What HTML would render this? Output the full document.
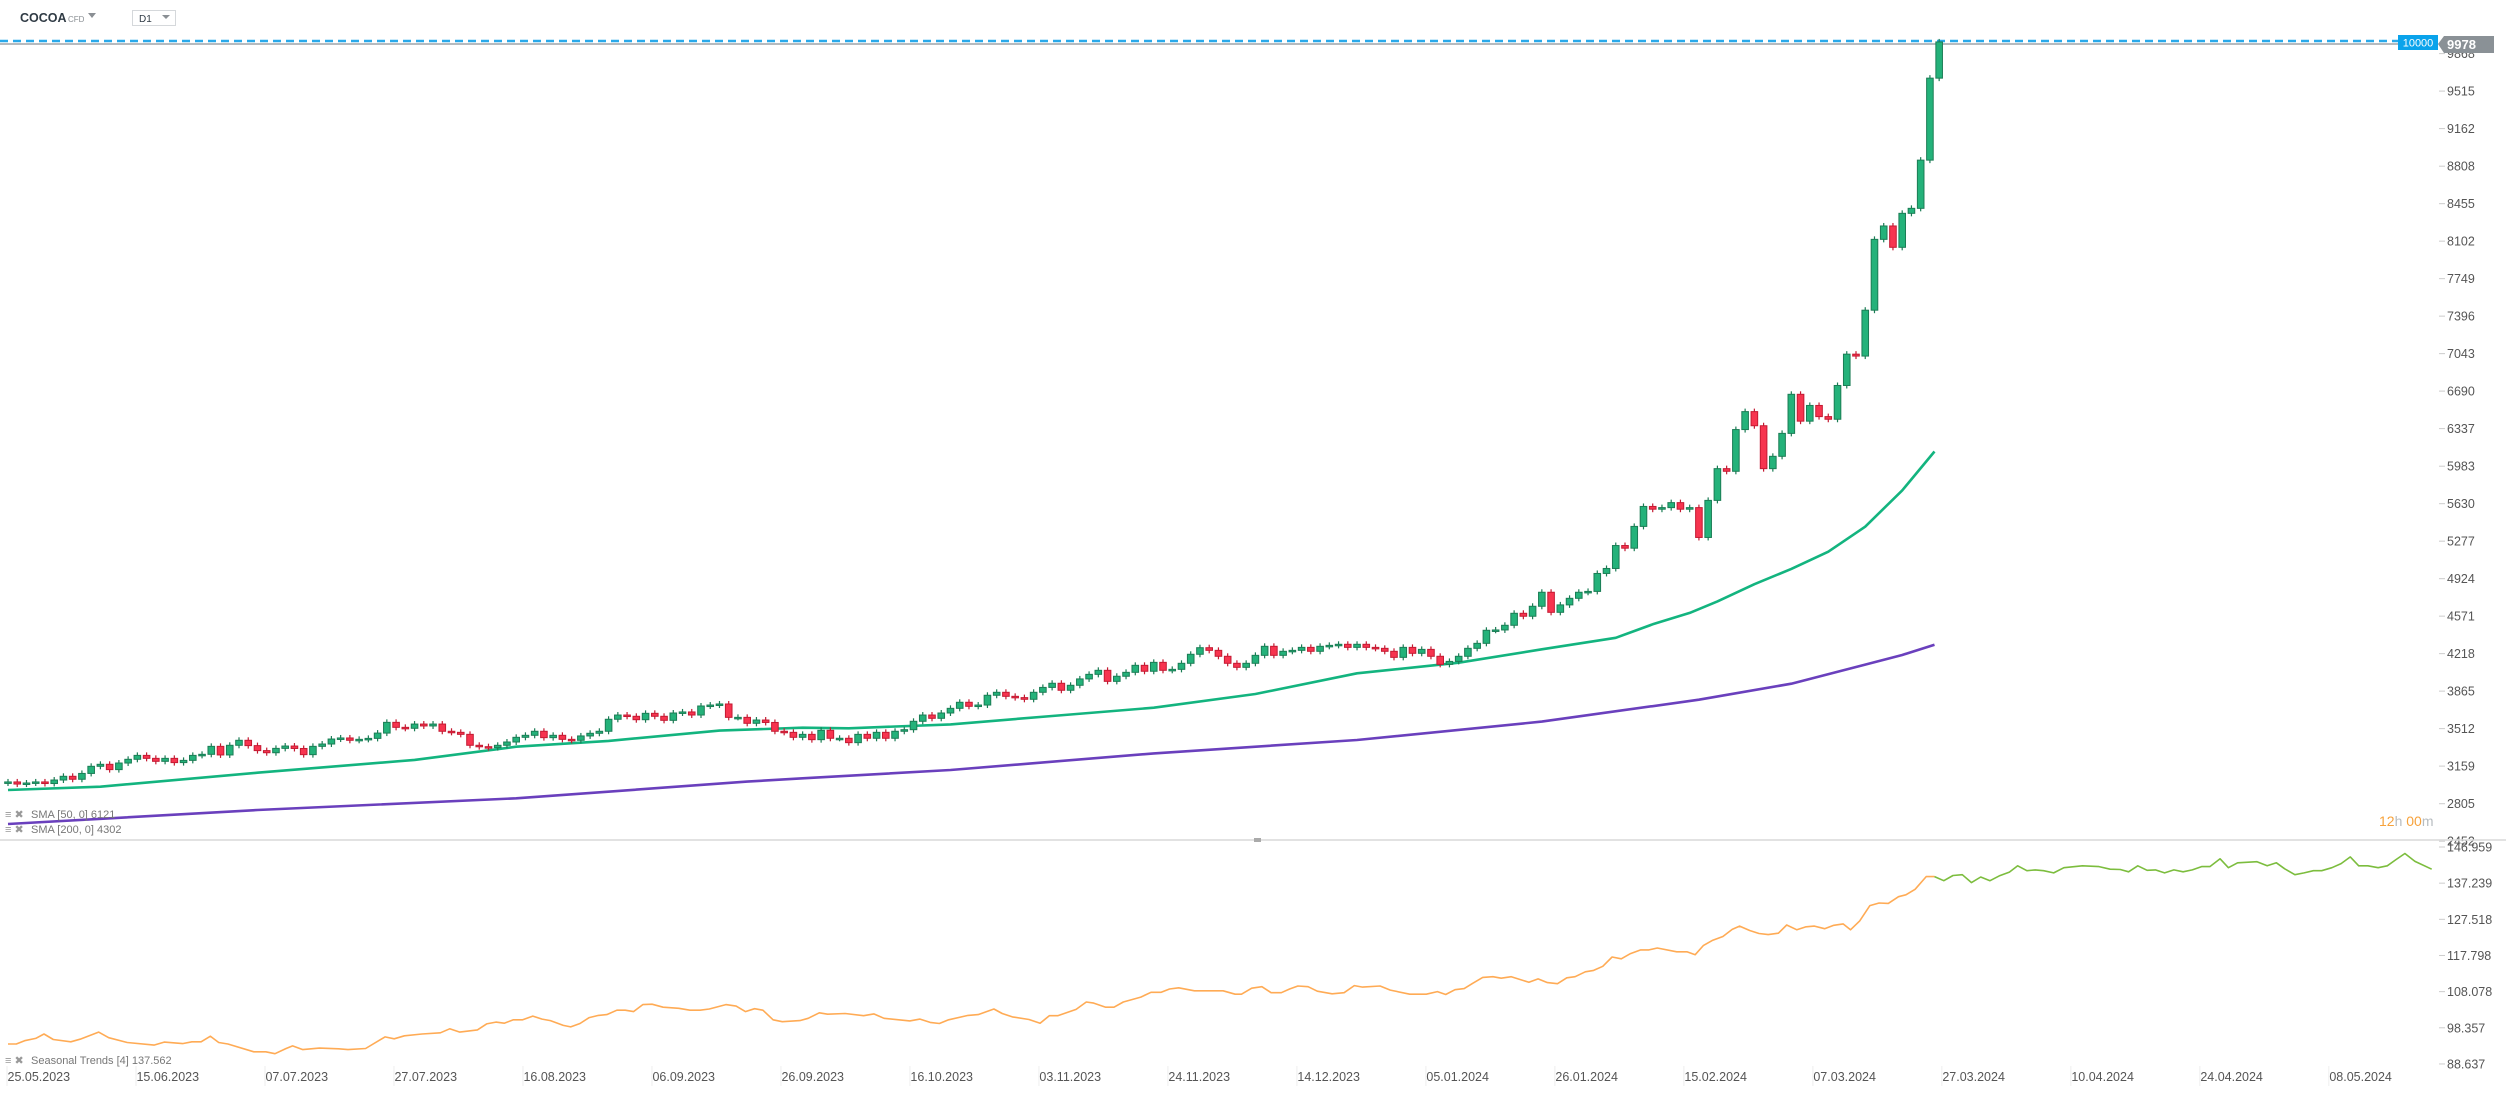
<!DOCTYPE html>
<html><head><meta charset="utf-8"><style>
html,body{margin:0;padding:0;background:#fff;}
svg{display:block;font-family:"Liberation Sans",sans-serif;}
</style></head><body>
<svg id="chart" width="2506" height="1093" viewBox="0 0 2506 1093" xmlns="http://www.w3.org/2000/svg">
<rect width="2506" height="1093" fill="#fff"/>
<g>
<text x="20" y="22" font-size="12.5" font-weight="bold" fill="#2f3a44">COCOA</text>
<text x="68" y="22" font-size="8" fill="#8a8f94">CFD</text>
<path d="M88 13 L96 13 L92 18 Z" fill="#8a8f94"/>
<rect x="132.5" y="10.5" width="43" height="15" fill="#fff" stroke="#d5d8db"/>
<text x="139" y="22" font-size="10" fill="#2f3a44">D1</text>
<path d="M162 15 L170 15 L166 19 Z" fill="#8a8f94"/>
</g>
<g id="grid"></g>
<line x1="0" y1="44" x2="2438" y2="44" stroke="#8a9196" stroke-width="1.2"/>
<line x1="0" y1="41" x2="2398" y2="41" stroke="#29a9ea" stroke-width="2.5" stroke-dasharray="8 5"/>
<g id="sma200"></g><g id="sma50"></g><g id="candles"></g>
<g id="price-axis"></g>
<rect x="2398" y="35" width="40" height="15" fill="#0aa3eb"/>
<text x="2418" y="46.5" font-size="11" fill="#fff" text-anchor="middle">10000</text>
<path d="M2438 44 L2444 36 L2494 36 L2494 53 L2444 53 Z" fill="#8a9196"/>
<text x="2447" y="49" font-size="13" font-weight="bold" fill="#fff">9978</text>
<g font-size="14">
<text x="2379" y="826"><tspan fill="#f7a23b">12</tspan><tspan fill="#b7bcc0">h </tspan><tspan fill="#f7a23b">00</tspan><tspan fill="#b7bcc0">m</tspan></text>
</g>
<g font-size="11" fill="#777">
<text x="5" y="818" fill="#999">≡ ✖</text>
<text x="31" y="818">SMA [50, 0] 6121</text>
<text x="5" y="833" fill="#999">≡ ✖</text>
<text x="31" y="833">SMA [200, 0] 4302</text>
</g>
<line x1="0" y1="840" x2="2506" y2="840" stroke="#d9d9d9" stroke-width="1.5"/>
<rect x="1254" y="838" width="7" height="4" fill="#aaa"/>
<g id="seasonal"></g>
<g id="seas-axis"></g>
<g font-size="11" fill="#777">
<text x="5" y="1064" fill="#999">≡ ✖</text>
<text x="31" y="1064">Seasonal  Trends  [4] 137.562</text>
</g>
<g id="date-axis"></g>
</svg>
<script>
const closes = [3010,2990,3000,3010,2995,3028,3063,3035,3090,3157,
3176,3126,3188,3223,3260,3232,3204,3232,3192,3213,
3260,3270,3345,3264,3355,3402,3352,3305,3285,3326,
3348,3325,3267,3345,3367,3414,3424,3402,3411,3420,
3470,3571,3524,3515,3555,3537,3555,3487,3477,3458,
3355,3342,3333,3355,3386,3430,3449,3487,3427,3449,
3411,3402,3443,3468,3487,3600,3640,3628,3596,3656,
3628,3590,3659,3669,3640,3725,3734,3744,3618,3618,
3562,3593,3570,3487,3477,3430,3458,
3408,3496,3421,3421,3380,3458,3421,3477,3421,3487,
3502,3581,3640,3609,3659,3703,3760,3722,3734,3826,
3854,3816,3804,3788,3854,3900,3939,3873,3920,3980,
4023,4061,3957,4005,4042,4108,4052,4136,4061,4070,
4127,4212,4274,4249,4193,4127,4089,4127,4202,4287,
4202,4240,4249,4277,4240,4287,4296,4306,4277,4306,
4277,4268,4240,4183,4277,4221,4258,4193,4117,4145,
4193,4268,4315,4438,4441,4485,4598,4570,4664,4796,4607,
4677,4739,4796,4804,4973,5020,5236,5211,5416,5604,
5578,5593,5640,5578,5593,5312,5661,5960,5935,6328,
6497,6364,5960,6076,6292,6660,6407,6555,6450,6425,
6743,7038,7020,7452,8119,8245,8044,8364,8411,8865,9637,9978];
const firstOpen = 3000;
const sma50Idx = [0,10,27,44,55,65,77,86,91,102,113,124,135,146,157,166,174,178,182,185,189,193,197,201,205,208.5];
const sma50Val = [2934,2965,3097,3217,3342,3396,3493,3521,3515,3552,3631,3709,3838,4033,4133,4259,4367,4494,4602,4710,4872,5016,5178,5413,5755,6121];
const sma200Idx = [0,27,55,80,86,102,124,146,166,183,193,201,205,208.5];
const sma200Val = [2614,2746,2856,3013,3044,3122,3279,3405,3578,3784,3935,4115,4205,4302];
const priceTicks = [9868,9515,9162,8808,8455,8102,7749,7396,7043,6690,6337,5983,5630,5277,4924,4571,4218,3865,3512,3159,2805,2452];
const seasTicks = ["146.959","137.239","127.518","117.798","108.078","98.357","88.637"];
const dateLabels = ["25.05.2023","15.06.2023","07.07.2023","27.07.2023","16.08.2023","06.09.2023","26.09.2023","16.10.2023","03.11.2023","24.11.2023","14.12.2023","05.01.2024","26.01.2024","15.02.2024","07.03.2024","27.03.2024","10.04.2024","24.04.2024","08.05.2024"];
const seasIdx = [0,0.9,1.8,3,3.9,4.9,6.8,7.8,9.8,10.9,12.9,15.8,16.9,18.9,19.9,20.9,21.9,22.8,23.8,26.6,27.9,28.9,30.1,30.8,31.9,33.7,35.8,36.8,38.7,40.8,41.8,42.9,44.8,46.8,47.8,48.9,50.8,51.8,52.8,53.7,54.7,55.7,56.8,57.8,58.7,60.1,60.9,61.9,62.9,63.9,64.8,65.9,66.8,67.7,68.7,69.7,70.9,72.6,73.8,74.9,
75.9,77.7,78.8,79.8,80.8,81.7,82.8,83.8,85.7,86.6,87.8,88.7,90.6,92.6,93.7,94.8,97.6,98.7,99.8,100.8,101.8,103.9,105,106.7,107.6,108.7,110.5,111.7,112.7,113.6,115.6,116.7,117.5,118.8,119.7,120.7,122.6,123.7,124.8,125.7,126.7,128.4,131.5,132.8,133.5,134.6,135.7,136.7,137.8,138.7,139.6,140.7,141.7,143.3,144.6,145.7,146.6,148.5,149.6,151.7,153.5,154.7,
155.6,156.6,157.6,158.5,159.6,160.7,161.6,162.7,164.6,165.6,166.6,167.7,168.7,169.6,170.7,171.6,172.6,173.6,174.6,175.6,176.7,177.6,178.5,180.6,181.7,182.6,183.5,184.5,185.6,186.6,187.4,188.5,189.5,190.5,191.6,192.5,193.6,194.6,195.5,196.6,197.6,198.6,199.4,200.4,201.5,202.5,203.5,204.6,205.4,206.4,207.6,208.5,
209.5,210.5,211.5,212.5,213.5,214.5,215.5,216.6,217.5,218.5,219.4,220.3,221.4,222.5,224.5,226.3,227.5,228.6,229.5,230.5,231.5,232.4,233.4,234.4,235.4,236.4,237.4,238.3,239.4,240.3,241.3,243.4,244.5,245.5,246.4,247.5,248.5,249.5,250.4,251.5,252.5,253.5,254.4,255.4,256.5,257.5,258.4,259.4,260.5,262.3];
const seasVal = [94,94,94.9,95.5,96.7,95.2,94.6,95.3,97.2,95.7,94.4,93.7,94.5,94.1,94.6,94.6,96.1,94.4,94,91.9,91.9,91.4,92.8,93.5,92.5,92.9,92.7,92.5,92.8,95.9,95.4,96.2,96.7,97,98.1,97.2,97.8,99.4,99.9,99.6,100.5,100.5,101.5,100.7,100.3,99,98.6,99.5,101.1,101.7,101.9,103.1,103.1,102.7,104.6,104.7,103.9,103.6,103.1,103.1,
103.4,104.6,104.2,102.7,103.5,103.1,100.5,100,100.3,100.9,102.4,102,102.2,101.6,102.1,100.9,100.2,100.7,99.8,99.5,100.5,101.7,101.9,103.4,102.2,101.3,100.6,99.6,101.6,101.6,103.3,105.3,105,103.9,103.9,105.3,106.6,107.9,107.9,108.8,109.1,108.3,108.3,107.4,107.4,109,109.4,107.8,107.8,108.8,109.6,109.4,108.2,107.5,107.8,109.7,109.3,109.6,108.5,107.4,107.4,108.1,
107.3,108.6,108.9,110.3,111.9,112.1,111.7,112.1,110.6,111.5,110.5,110.2,111.8,112.1,113.4,113.8,114.9,117.4,116.9,118.3,119.3,119.3,119.8,118.8,118.8,118,120.5,121.9,122.9,124.8,125.7,124.5,123.7,123.4,123.8,126,124.7,125.5,125.7,125,125.9,126.3,124.7,127.1,131.2,131.9,131.8,133.6,134.1,135.6,139,139,
137.9,139.3,139.5,137.4,138.9,137.9,139.2,140.2,141.9,140.6,140.8,140.6,140,141.4,141.9,141.7,141,140.9,140.3,141.9,140.7,140.8,140,140.8,140.3,140.8,141.7,141.7,143.8,141.4,142.7,143,141.9,142.7,141.1,139.5,140,140.6,140.6,141.4,142.5,144.3,141.9,141.9,141.4,141.9,143.5,145.2,143.1,141];
const seasSplit = 208.5;

const NS = "http://www.w3.org/2000/svg";
const X0 = 8, STEP = 9.24;
function xAt(i){ return X0 + i*STEP; }
function yPrice(p){ return 91.1 + (9515 - p)*0.1062; }
function ySeas(v){ return 847 + (146.959 - v)*3.72; }
function mk(tag, attrs, parent){ const e=document.createElementNS(NS,tag); for(const k in attrs) e.setAttribute(k,attrs[k]); parent.appendChild(e); return e; }

const cg = document.getElementById('candles');


let prev = firstOpen;
closes.forEach((c,i)=>{
  const o = prev; prev = c;
  const up = c >= o;
  const x = xAt(i);
  const yT = yPrice(Math.max(o,c)), yB = yPrice(Math.min(o,c));
  const g = mk('g',{},cg);
  
  
  const col = up ? '#1b7d55' : '#c41a32';
  mk('line',{x1:x,x2:x,y1:yT-3,y2:yB+3,stroke:col,'stroke-width':1.2},g);
  mk('rect',{x:x-3.3,y:yT,width:6.6,height:Math.max(1.5,yB-yT),fill:up?'#24b27a':'#f7344f',stroke:col,'stroke-width':1},g);
});

function line(idx, vals, yf, color, w, parent){
  const pts = idx.map((i,k)=>xAt(i).toFixed(1)+','+yf(vals[k]).toFixed(1)).join(' ');
  return mk('polyline',{points:pts,fill:'none',stroke:color,'stroke-width':w,'stroke-linejoin':'round'},parent);
}
const s50 = line(sma50Idx, sma50Val, yPrice, '#13b47f', 2.6, document.getElementById('sma50'));


const s200 = line(sma200Idx, sma200Val, yPrice, '#6a40bd', 2.6, document.getElementById('sma200'));



const sg = document.getElementById('seasonal');
const oI=[],oV=[],gI=[],gV=[];
seasIdx.forEach((i,k)=>{ if(i<=seasSplit){oI.push(i);oV.push(seasVal[k]);} if(i>=seasSplit){gI.push(i);gV.push(seasVal[k]);} });
const so = line(oI,oV,ySeas,'#ffab55',1.6,sg);


const sgl = line(gI,gV,ySeas,'#7cbd3e',1.6,sg);



const pa = document.getElementById('price-axis');


priceTicks.forEach(p=>{
  const y = yPrice(p);
  const t = mk('line',{x1:2439,x2:2445,y1:y,y2:y,stroke:'#ccc'},pa);
  
  
  const tx = mk('text',{x:2447,y:y+4.5,'font-size':12.5,fill:'#555'},pa);
  
  
  tx.textContent = p;
});
const sa = document.getElementById('seas-axis');


seasTicks.forEach(s=>{
  const y = ySeas(parseFloat(s));
  const t = mk('line',{x1:2439,x2:2445,y1:y,y2:y,stroke:'#ccc'},sa);
  
  
  const tx = mk('text',{x:2447,y:y+4.5,'font-size':12.5,fill:'#555'},sa);
  
  
  tx.textContent = s;
});
const da = document.getElementById('date-axis');


dateLabels.forEach((d,k)=>{
  const x = xAt(k*13.96) - 1;
  const t = mk('line',{x1:x,x2:x,y1:1066,y2:1086,stroke:'#eee'},da);
  
  
  const tx = mk('text',{x:x+0.5,y:1081,'font-size':12.5,fill:'#555'},da);
  
  
  tx.textContent = d;
});
</script>
</body></html>
